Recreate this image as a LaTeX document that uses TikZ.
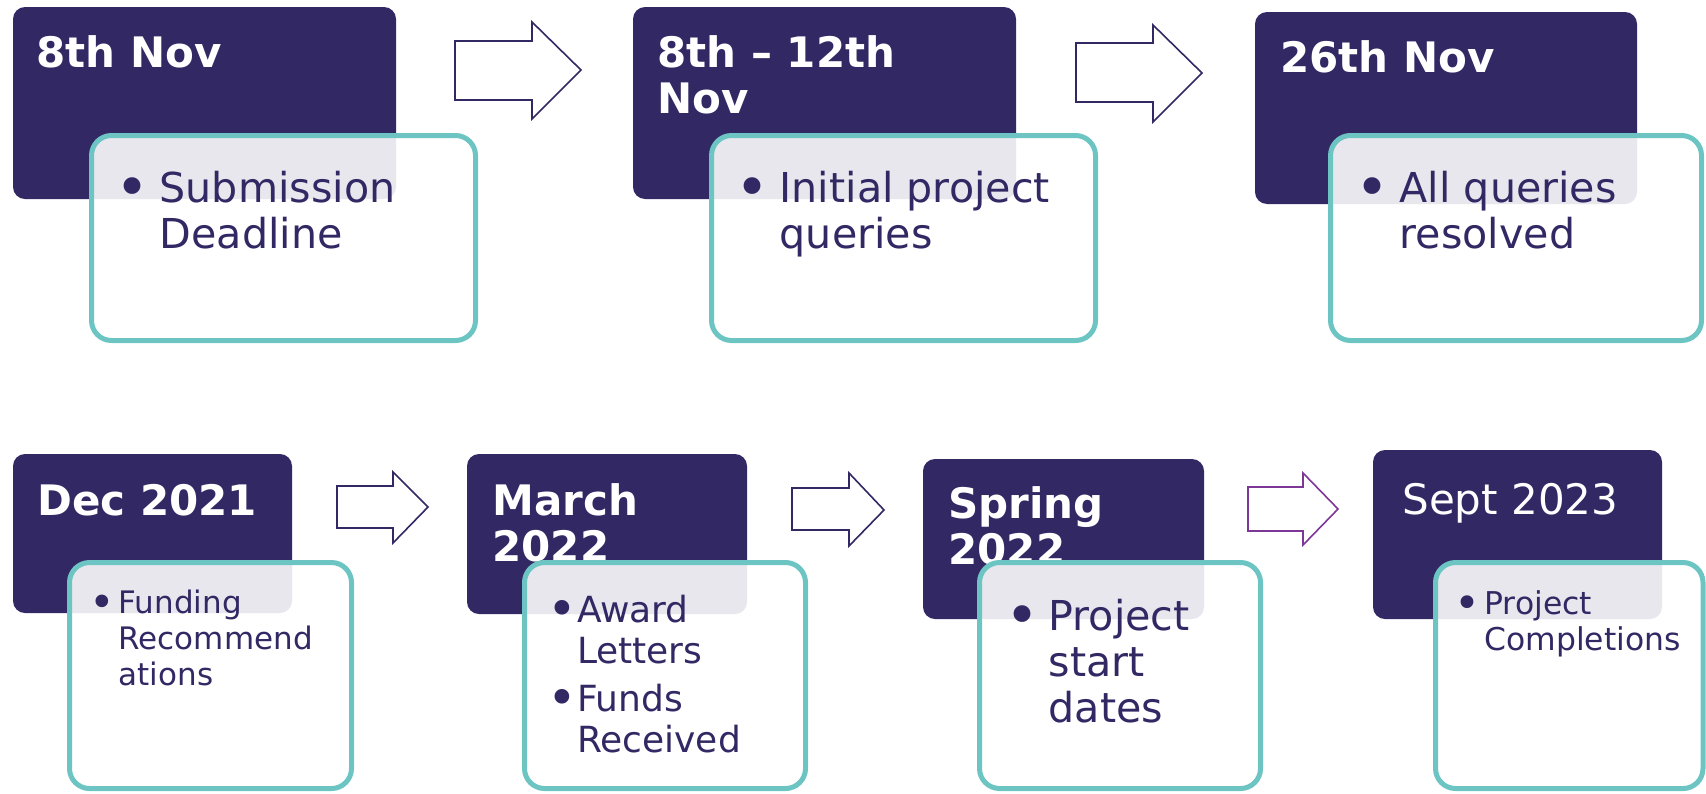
\documentclass[tikz,border=0pt]{standalone}
\usepackage{fontspec}
\setmainfont{DejaVu Sans}
\usepackage{tikz}

\definecolor{navy}{RGB}{50,40,100}
\definecolor{tealline}{RGB}{108,196,195}
\definecolor{plum}{RGB}{125,55,150}

% one column of lines, baseline on the first line
\newcommand{\stacked}[1]{\begin{tabular}[t]{@{}l@{}}#1\end{tabular}}
% bullet column + text column
\newcommand{\bulleted}[2]{\begin{tabular}[t]{@{}c@{\hspace{#1}}l@{}}#2\end{tabular}}
% a slightly bigger bullet, same width and centre height
\newcommand{\bigbullet}{\makebox[0.59em][c]{\raisebox{-0.13em}{\scalebox{1.4}{•}}}}

\tikzset{
  datebox/.style={fill=navy, rounded corners=6pt},
  notebox/.style={draw=tealline, line width=2.5pt, fill=white, fill opacity=0.89, rounded corners=10pt},
  datetext/.style={anchor=base west, inner sep=0pt, text=white, font=\bfseries\fontsize{21}{23}\selectfont},
  notetext/.style={anchor=base west, inner sep=0pt, text=navy},
  flowarrow/.style={draw=navy, line width=0.8pt, fill=white, line join=miter},
}

\begin{document}
\begin{tikzpicture}[x=0.5pt, y=-0.5pt] % pixel grid, y runs downwards

    \useasboundingbox (0, 0) rectangle (1706, 793);

    % Date boxes (dark)
    \fill[datebox] (13, 7) rectangle (396, 199);      % 8th Nov
    \fill[datebox] (633, 7) rectangle (1016, 199);    % 8th - 12th Nov
    \fill[datebox] (1255, 12) rectangle (1637, 204);  % 26th Nov
    \fill[datebox] (13, 454) rectangle (292, 613);    % Dec 2021
    \fill[datebox] (467, 454) rectangle (747, 614);   % March 2022
    \fill[datebox] (923, 459) rectangle (1204, 619);  % Spring 2022
    \fill[datebox] (1373, 450) rectangle (1662, 619); % Sept 2023

    % Dates
    \node[datetext] (date1) at (36, 67) {8th Nov};
    \node[datetext] (date2) at (657, 67) {\stacked{8th – 12th\\Nov}};
    \node[datetext] (date3) at (1280, 72) {26th Nov};
    \node[datetext] (date4) at (37, 515) {Dec 2021};
    \node[datetext] (date5) at (492, 515) {\stacked{March\\2022}};
    \node[datetext] (date6) at (948, 518) {\stacked{Spring\\2022}};
    \node[datetext, font=\fontsize{21}{23}\selectfont] (date7) at (1402, 514) {Sept 2023};

    % Note boxes (teal outline, see-through white)
    \filldraw[notebox] (91.5, 135.5) rectangle (475.5, 340.5);
    \filldraw[notebox] (711.5, 135.5) rectangle (1095.5, 340.5);
    \filldraw[notebox] (1330.5, 135.5) rectangle (1701.5, 340.5);
    \filldraw[notebox] (69.5, 562.5) rectangle (351.5, 788.5);
    \filldraw[notebox] (524.5, 562.5) rectangle (805.5, 788.5);
    \filldraw[notebox] (979.5, 562.5) rectangle (1260.5, 788.5);
    \filldraw[notebox] (1435.5, 562.5) rectangle (1703, 788.5);

    % Notes
    \node[notetext, font=\fontsize{20.6}{23}\selectfont] (note1) at (120, 202)
        {\bulleted{7.5pt}{\bigbullet & Submission\\ & Deadline}};
    \node[notetext, font=\fontsize{20.6}{23}\selectfont] (note2) at (740, 202)
        {\bulleted{7.5pt}{\bigbullet & Initial project\\ & queries}};
    \node[notetext, font=\fontsize{20.6}{23}\selectfont] (note3) at (1360, 202)
        {\bulleted{7.5pt}{\bigbullet & All queries\\ & resolved}};
    \node[notetext, font=\fontsize{15.5}{18.2}\selectfont] (note4) at (93, 613)
        {\bulleted{3.5pt}{\bigbullet & Funding\\ & Recommend\\ & ations}};
    \node[notetext, font=\fontsize{18}{20.5}\selectfont] (note5) at (551, 622)
        {\bulleted{2.2pt}{\bigbullet & Award\\ & Letters\\[3.5pt] \bigbullet & Funds\\ & Received}};
    \node[notetext, font=\fontsize{20.6}{23}\selectfont] (note6) at (1010, 630)
        {\bulleted{7pt}{\bigbullet & Project\\ & start\\ & dates}};
    \node[notetext, font=\fontsize{15.7}{18}\selectfont] (note7) at (1458, 614)
        {\bulleted{3.8pt}{\bigbullet & Project\\ & Completions}};

    % Block arrows between the dates
    \filldraw[flowarrow] (455, 41) -- (532, 41) -- (532, 22) -- (581, 70)
        -- (532, 119) -- (532, 100) -- (455, 100) -- cycle;
    \filldraw[flowarrow] (1076, 43) -- (1153, 43) -- (1153, 25) -- (1202, 73)
        -- (1153, 122) -- (1153, 102) -- (1076, 102) -- cycle;
    \filldraw[flowarrow] (337, 486) -- (393, 486) -- (393, 472) -- (428, 507)
        -- (393, 543) -- (393, 528) -- (337, 528) -- cycle;
    \filldraw[flowarrow] (792, 488) -- (849, 488) -- (849, 473) -- (884, 510)
        -- (849, 546) -- (849, 530) -- (792, 530) -- cycle;
    \filldraw[flowarrow, draw=plum] (1248, 487) -- (1303, 487) -- (1303, 473) -- (1338, 509)
        -- (1303, 545) -- (1303, 531) -- (1248, 531) -- cycle;

\end{tikzpicture}
\end{document}
